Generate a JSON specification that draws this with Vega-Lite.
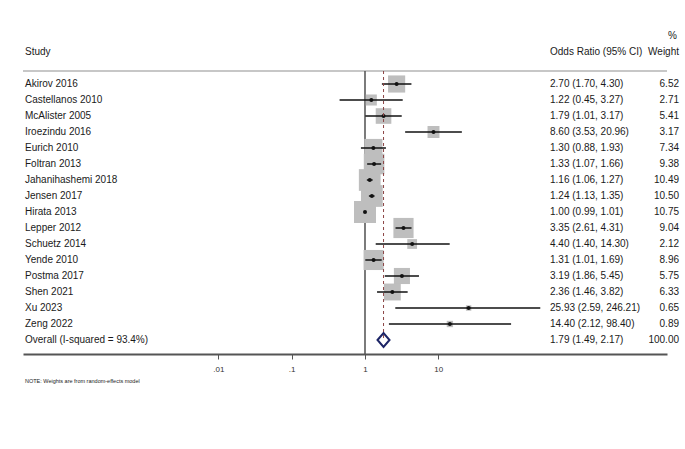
{
  "$schema": "https://vega.github.io/schema/vega-lite/v6.json",
  "width": 644,
  "height": 354,
  "autosize": "none",
  "padding": {"left": 23, "top": 0, "right": 18, "bottom": 95},
  "background": "white",
  "config": {"view": {"stroke": null}, "font": "Liberation Sans", "text": {"font": "Liberation Sans"}},
  "data": {
    "values": [
      {"study": "Akirov 2016", "or": 2.70, "lo": 1.70, "hi": 4.30, "weight": 6.52, "kind": "study"},
      {"study": "Castellanos 2010", "or": 1.22, "lo": 0.45, "hi": 3.27, "weight": 2.71, "kind": "study"},
      {"study": "McAlister 2005", "or": 1.79, "lo": 1.01, "hi": 3.17, "weight": 5.41, "kind": "study"},
      {"study": "Iroezindu 2016", "or": 8.60, "lo": 3.53, "hi": 20.96, "weight": 3.17, "kind": "study"},
      {"study": "Eurich 2010", "or": 1.30, "lo": 0.88, "hi": 1.93, "weight": 7.34, "kind": "study"},
      {"study": "Foltran 2013", "or": 1.33, "lo": 1.07, "hi": 1.66, "weight": 9.38, "kind": "study"},
      {"study": "Jahanihashemi 2018", "or": 1.16, "lo": 1.06, "hi": 1.27, "weight": 10.49, "kind": "study"},
      {"study": "Jensen 2017", "or": 1.24, "lo": 1.13, "hi": 1.35, "weight": 10.50, "kind": "study"},
      {"study": "Hirata 2013", "or": 1.00, "lo": 0.99, "hi": 1.01, "weight": 10.75, "kind": "study"},
      {"study": "Lepper 2012", "or": 3.35, "lo": 2.61, "hi": 4.31, "weight": 9.04, "kind": "study"},
      {"study": "Schuetz 2014", "or": 4.40, "lo": 1.40, "hi": 14.30, "weight": 2.12, "kind": "study"},
      {"study": "Yende 2010", "or": 1.31, "lo": 1.01, "hi": 1.69, "weight": 8.96, "kind": "study"},
      {"study": "Postma 2017", "or": 3.19, "lo": 1.86, "hi": 5.45, "weight": 5.75, "kind": "study"},
      {"study": "Shen 2021", "or": 2.36, "lo": 1.46, "hi": 3.82, "weight": 6.33, "kind": "study"},
      {"study": "Xu 2023", "or": 25.93, "lo": 2.59, "hi": 246.21, "weight": 0.65, "kind": "study"},
      {"study": "Zeng 2022", "or": 14.40, "lo": 2.12, "hi": 98.40, "weight": 0.89, "kind": "study"},
      {"study": "Overall (I-squared = 93.4%)", "or": 1.79, "lo": 1.49, "hi": 2.17, "weight": 100.00, "kind": "overall"}
    ]
  },
  "transform": [
    {"window": [{"op": "row_number", "as": "row"}]},
    {"calculate": "format(datum.or, '.2f') + ' (' + format(datum.lo, '.2f') + ', ' + format(datum.hi, '.2f') + ')'", "as": "ci_text"},
    {"calculate": "format(datum.weight, '.2f')", "as": "w_text"}
  ],
  "layer": [
    {
      "data": {"values": [{"line": "separator"}]},
      "mark": {"type": "rule", "color": "#b4b4b4", "strokeWidth": 1.5},
      "encoding": {
        "y": {"datum": 0.1875, "type": "quantitative", "scale": {"domain": [-4.25, 17.875], "reverse": true, "nice": false, "zero": false}, "axis": null}
      }
    },
    {
      "data": {"values": [{"line": "null"}]},
      "mark": {"type": "rule", "color": "#505050", "strokeWidth": 1.5},
      "encoding": {
        "x": {"datum": 1, "type": "quantitative"},
        "y": {"datum": 0.1875, "type": "quantitative"},
        "y2": {"datum": 17.875}
      }
    },
    {
      "transform": [{"filter": "datum.kind === 'study'"}],
      "mark": {"type": "point", "shape": "square", "filled": true, "color": "#bebebe", "opacity": 1},
      "encoding": {
        "x": {
          "field": "or", "type": "quantitative",
          "scale": {"type": "log", "domain": [0.00002159, 13186], "nice": false, "zero": false},
          "axis": {
            "values": [0.01, 0.1, 1, 10], "grid": false, "title": null,
            "labelExpr": "replace(format(datum.value, ''), '0.', '.')",
            "domainColor": "#555555", "domainWidth": 1.8,
            "tickColor": "#555555", "tickSize": 5, "tickWidth": 1,
            "labelFontSize": 8, "labelColor": "#333333", "labelPadding": 6, "labelFont": "Liberation Sans"
          }
        },
        "y": {"field": "row", "type": "quantitative"},
        "size": {"field": "weight", "type": "quantitative", "scale": {"type": "linear", "domain": [0, 10.75], "range": [0, 484], "zero": true}, "legend": null}
      }
    },
    {
      "transform": [{"filter": "datum.kind === 'study'"}],
      "mark": {"type": "rule", "color": "#111111", "strokeWidth": 1.5},
      "encoding": {
        "x": {"field": "lo", "type": "quantitative"},
        "x2": {"field": "hi"},
        "y": {"field": "row", "type": "quantitative"}
      }
    },
    {
      "transform": [{"filter": "datum.kind === 'study'"}],
      "mark": {"type": "point", "shape": "circle", "filled": true, "color": "#111111", "opacity": 1, "size": 16},
      "encoding": {
        "x": {"field": "or", "type": "quantitative"},
        "y": {"field": "row", "type": "quantitative"}
      }
    },
    {
      "transform": [{"filter": "datum.kind === 'overall'"}],
      "mark": {"type": "rule", "color": "#8c4545", "strokeWidth": 1, "strokeDash": [3, 3]},
      "encoding": {
        "x": {"field": "or", "type": "quantitative"},
        "y": {"datum": 0.1875, "type": "quantitative"},
        "y2": {"datum": 17}
      }
    },
    {
      "transform": [{"filter": "datum.kind === 'overall'"}],
      "mark": {"type": "point", "shape": "M-1,0L0,-1.15L1,0L0,1.15Z", "filled": false, "stroke": "#1c2466", "strokeWidth": 2, "size": 144, "opacity": 1},
      "encoding": {
        "x": {"field": "or", "type": "quantitative"},
        "y": {"field": "row", "type": "quantitative"}
      }
    },
    {
      "mark": {"type": "text", "align": "left", "baseline": "middle", "fontSize": 10, "color": "#1a1a1a"},
      "encoding": {
        "x": {"datum": 0.00002298, "type": "quantitative"},
        "y": {"field": "row", "type": "quantitative"},
        "text": {"field": "study"}
      }
    },
    {
      "mark": {"type": "text", "align": "left", "baseline": "middle", "fontSize": 10, "color": "#1a1a1a"},
      "encoding": {
        "x": {"datum": 334.1, "type": "quantitative"},
        "y": {"field": "row", "type": "quantitative"},
        "text": {"field": "ci_text"}
      }
    },
    {
      "mark": {"type": "text", "align": "right", "baseline": "middle", "fontSize": 10, "color": "#1a1a1a"},
      "encoding": {
        "x": {"datum": 19230, "type": "quantitative"},
        "y": {"field": "row", "type": "quantitative"},
        "text": {"field": "w_text"}
      }
    },
    {
      "data": {"values": [{"label": "Study"}]},
      "mark": {"type": "text", "align": "left", "baseline": "middle", "fontSize": 10, "color": "#1a1a1a"},
      "encoding": {"x": {"datum": 0.00002298, "type": "quantitative"}, "y": {"datum": -1.0, "type": "quantitative"}, "text": {"field": "label"}}
    },
    {
      "data": {"values": [{"label": "Odds Ratio (95% CI)"}]},
      "mark": {"type": "text", "align": "left", "baseline": "middle", "fontSize": 10, "color": "#1a1a1a"},
      "encoding": {"x": {"datum": 334.1, "type": "quantitative"}, "y": {"datum": -1.0, "type": "quantitative"}, "text": {"field": "label"}}
    },
    {
      "data": {"values": [{"label": "Weight"}]},
      "mark": {"type": "text", "align": "right", "baseline": "middle", "fontSize": 10, "color": "#1a1a1a"},
      "encoding": {"x": {"datum": 19230, "type": "quantitative"}, "y": {"datum": -1.0, "type": "quantitative"}, "text": {"field": "label"}}
    },
    {
      "data": {"values": [{"label": "%"}]},
      "mark": {"type": "text", "align": "right", "baseline": "middle", "fontSize": 10, "color": "#1a1a1a"},
      "encoding": {"x": {"datum": 18050, "type": "quantitative"}, "y": {"datum": -2.0, "type": "quantitative"}, "text": {"field": "label"}}
    },
    {
      "data": {"values": [{"label": "NOTE: Weights are from random-effects model"}]},
      "mark": {"type": "text", "align": "left", "baseline": "middle", "fontSize": 5.5, "color": "#1a1a1a"},
      "encoding": {"x": {"datum": 0.00002298, "type": "quantitative"}, "y": {"datum": 19.56, "type": "quantitative"}, "text": {"field": "label"}}
    }
  ]
}
